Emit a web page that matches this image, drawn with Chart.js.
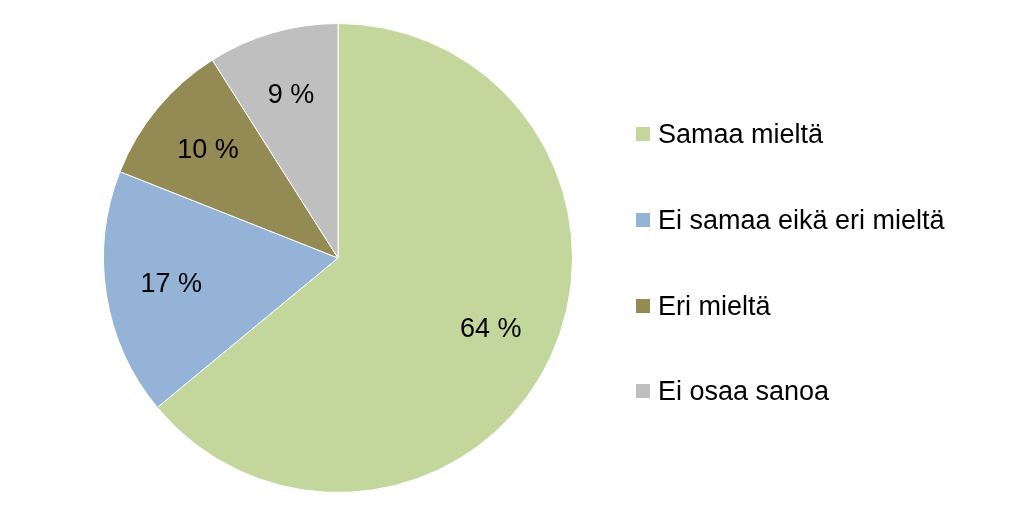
<!DOCTYPE html>
<html>
<head>
<meta charset="utf-8">
<script src="https://cdn.jsdelivr.net/npm/chart.js@4"></script>
<style>
  body { margin: 0; background: #fff; font-family: "Liberation Sans", Arial, sans-serif; }
  #wrap { position: relative; width: 1024px; height: 528px; }
  #box { position: absolute; left: 0; top: 0; width: 676px; height: 528px; }
  #legend { position: absolute; left: 636px; top: 0; }
  .item { position: absolute; left: 0; white-space: nowrap; font-size: 27px; color: #000; }
  .item span { display: inline-block; width: 14px; height: 14px; margin-right: 8px; vertical-align: 2px; }
</style>
</head>
<body>
<div id="wrap">
  <div id="box"><canvas id="pie"></canvas></div>
  <div id="legend"></div>
</div>
<script>
const labels = ["Samaa mieltä", "Ei samaa eikä eri mieltä", "Eri mieltä", "Ei osaa sanoa"]
const values = [64, 17, 10, 9]
const colors = ["#C3D69B", "#95B3D7", "#948A54", "#BFBFBF"]

// labels inside the slices
const sliceLabels = {
  id: "sliceLabels",
  afterDatasetsDraw(chart) {
    const ctx = chart.ctx
    const meta = chart.getDatasetMeta(0)
    ctx.save()
    ctx.font = "27px 'Liberation Sans', Arial, sans-serif"
    ctx.fillStyle = "#000"
    ctx.textAlign = "center"
    ctx.textBaseline = "middle"
    meta.data.forEach((arc, i) => {
      const mid = (arc.startAngle + arc.endAngle) / 2
      const r = arc.outerRadius * 0.72
      ctx.fillText(values[i] + " %", arc.x + Math.cos(mid) * r, arc.y + Math.sin(mid) * r)
    })
    ctx.restore()
  },
}

new Chart(document.getElementById("pie"), {
  type: "pie",
  data: {
    labels: labels,
    datasets: [{ data: values, backgroundColor: colors, borderColor: "#fff", borderWidth: 1 }],
  },
  options: {
    responsive: true,
    maintainAspectRatio: false,
    animation: false,
    layout: { padding: { top: 23, bottom: 35, left: 29, right: 29 } },
    plugins: { legend: { display: false }, tooltip: { enabled: false } },
  },
  plugins: [sliceLabels],
})

const legend = document.getElementById("legend")
const rows = [135, 221, 307, 392]
labels.forEach((l, i) => {
  const d = document.createElement("div")
  d.className = "item"
  d.style.top = (rows[i] - 16) + "px"
  d.innerHTML = '<span style="background:' + colors[i] + '"></span>' + l
  legend.appendChild(d)
})
</script>
</body>
</html>
